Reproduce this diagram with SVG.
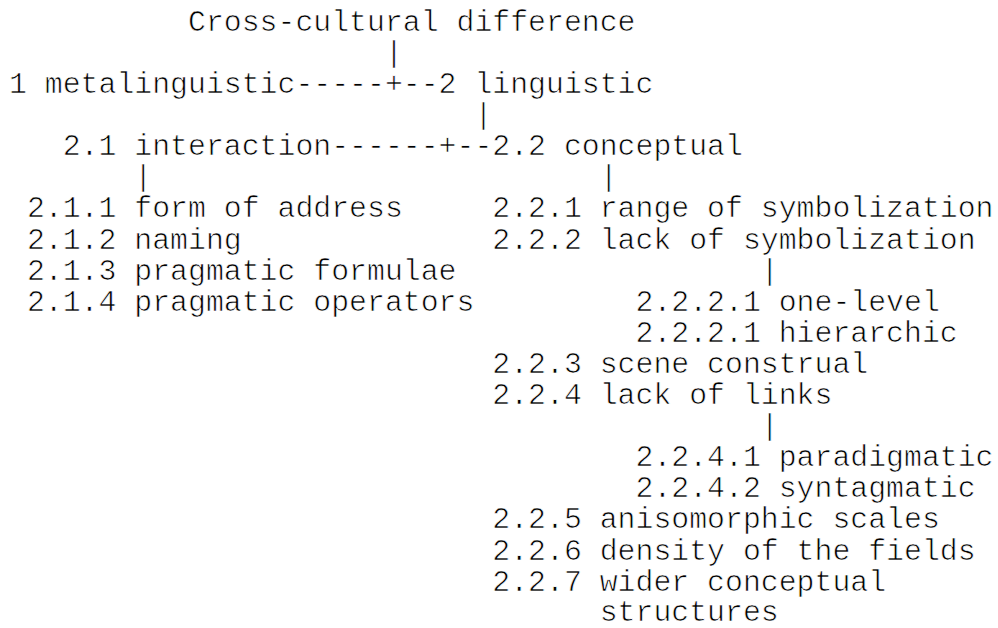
<svg xmlns="http://www.w3.org/2000/svg" width="998" height="628" viewBox="0 0 998 628">
<style>
text { font-family: "Liberation Mono", "Courier New", monospace; font-size: 29.83px; fill: #000; stroke: #fff; stroke-width: 0.7px; }
</style>
<rect width="998" height="628" fill="#fff"/>
<g id="connectors">
<text x="384.9" y="61.9">|</text>
<text x="295.4" y="93">-----+--</text>
<text x="474.4" y="124.1">|</text>
<text x="331.2" y="155.2">------+--</text>
<text x="134.3" y="186.3">|</text>
<text x="599.7" y="186.3">|</text>
<text x="760.8" y="279.6">|</text>
<text x="760.8" y="435.1">|</text>
</g>
<g id="n-root"><text x="188" y="30.8">Cross-cultural difference</text></g>
<g id="n-1"><text x="9" y="93">1 metalinguistic</text></g>
<g id="n-2"><text x="438.6" y="93">2 linguistic</text></g>
<g id="n-2-1"><text x="62.7" y="155.2">2.1 interaction</text></g>
<g id="n-2-2"><text x="492.3" y="155.2">2.2 conceptual</text></g>
<g id="n-2-1-1"><text x="26.9" y="217.4">2.1.1 form of address</text></g>
<g id="n-2-1-2"><text x="26.9" y="248.5">2.1.2 naming</text></g>
<g id="n-2-1-3"><text x="26.9" y="279.6">2.1.3 pragmatic formulae</text></g>
<g id="n-2-1-4"><text x="26.9" y="310.7">2.1.4 pragmatic operators</text></g>
<g id="n-2-2-1"><text x="492.3" y="217.4">2.2.1 range of symbolization</text></g>
<g id="n-2-2-2"><text x="492.3" y="248.5">2.2.2 lack of symbolization</text></g>
<g id="n-2-2-2-1a"><text x="635.5" y="310.7">2.2.2.1 one-level</text></g>
<g id="n-2-2-2-1b"><text x="635.5" y="341.8">2.2.2.1 hierarchic</text></g>
<g id="n-2-2-3"><text x="492.3" y="372.9">2.2.3 scene construal</text></g>
<g id="n-2-2-4"><text x="492.3" y="404">2.2.4 lack of links</text></g>
<g id="n-2-2-4-1"><text x="635.5" y="466.2">2.2.4.1 paradigmatic</text></g>
<g id="n-2-2-4-2"><text x="635.5" y="497.3">2.2.4.2 syntagmatic</text></g>
<g id="n-2-2-5"><text x="492.3" y="528.4">2.2.5 anisomorphic scales</text></g>
<g id="n-2-2-6"><text x="492.3" y="559.5">2.2.6 density of the fields</text></g>
<g id="n-2-2-7"><text x="492.3" y="590.6">2.2.7 wider conceptual<tspan x="599.7" y="620.5">structures</tspan></text></g>
</svg>
